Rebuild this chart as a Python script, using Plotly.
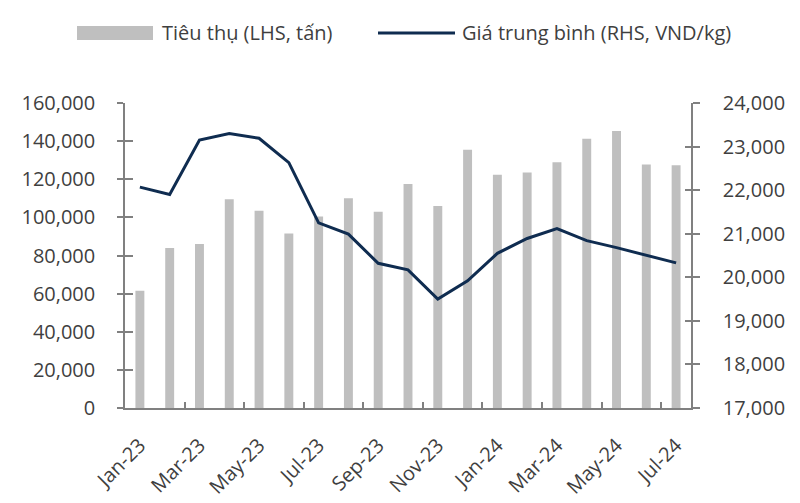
import plotly.graph_objects as go

months = ["Jan-23", "Feb-23", "Mar-23", "Apr-23", "May-23", "Jun-23", "Jul-23",
          "Aug-23", "Sep-23", "Oct-23", "Nov-23", "Dec-23", "Jan-24", "Feb-24",
          "Mar-24", "Apr-24", "May-24", "Jun-24", "Jul-24"]
consumption = [61500, 84000, 86000, 109500, 103500, 91500, 100500, 110000, 103000,
               117500, 106000, 135500, 122400, 123600, 128900, 141300, 145300,
               127800, 127300]
avg_price = [22070, 21900, 23150, 23300, 23190, 22630, 21250, 20990, 20320, 20170,
             19500, 19920, 20550, 20890, 21120, 20840, 20680, 20500, 20330]
left_ticks = [0, 20000, 40000, 60000, 80000, 100000, 120000, 140000, 160000]
right_ticks = [17000, 18000, 19000, 20000, 21000, 22000, 23000, 24000]
legend_bar = "Tiêu thụ (LHS, tấn)"
legend_line = "Giá trung bình (RHS, VND/kg)"

OFF = 8  # default page body margin
W, H = 800 - OFF, 503 - OFF
L, R, T, B = 125 - OFF, 691 - OFF, 103 - OFF, 408 - OFF
FONT = "Open Sans"
TXT = "#3f3f3f"
AX = "#808080"
BAR = "#bfbfbf"
LINE = "#0f2c50"

idx = list(range(len(months)))
label_idx = idx[::2]
label_txt = months[::2]
bound_idx = [i + 1.5 for i in idx[::2][:-1]]

def px(x):
    return (x - OFF - L) / (R - L)

def py(y):
    return (B - (y - OFF)) / (B - T)

fig = go.Figure()
fig.add_trace(go.Bar(x=idx, y=consumption, marker=dict(color=BAR, line=dict(width=0)),
                     name=legend_bar, showlegend=False, yaxis="y"))
fig.add_trace(go.Scatter(x=idx, y=avg_price, mode="lines", line=dict(color=LINE, width=3),
                         name=legend_line, showlegend=False, yaxis="y2"))

fig.update_layout(
    width=W, height=H,
    margin=dict(l=L, r=W - R, t=T, b=H - B, autoexpand=False),
    paper_bgcolor="white", plot_bgcolor="white",
    font=dict(family=FONT, size=20, color=TXT),
    bargap=0.7,
    xaxis=dict(
        range=[-0.5, len(months) - 0.5], tickmode="array", tickvals=label_idx,
        ticktext=label_txt, ticks="", tickangle=-45, showgrid=False, zeroline=False,
        showline=True, linecolor=AX, linewidth=1.5, automargin=False,
        minor=dict(tickmode="array", tickvals=bound_idx, ticks="inside", ticklen=6,
                   tickcolor=AX, tickwidth=1.5, showgrid=False),
        tickfont=dict(size=20, color=TXT), ticklabelstandoff=16,
    ),
    yaxis=dict(
        range=[0, 160000], tickmode="array", tickvals=left_ticks,
        ticktext=[f"{v:,}" for v in left_ticks], ticks="outside", ticklen=6,
        tickcolor=AX, tickwidth=1.5, showgrid=False, zeroline=False, automargin=False,
        showline=True, linecolor=AX, linewidth=1.5, ticklabelstandoff=18,
        tickfont=dict(size=20, color=TXT),
    ),
    yaxis2=dict(
        range=[17000, 24000], tickmode="array", tickvals=right_ticks,
        ticktext=[f"{v:,}" for v in right_ticks], overlaying="y", side="right",
        ticks="outside", ticklen=7, tickcolor=AX, tickwidth=1.5, showgrid=False,
        zeroline=False, showline=True, linecolor=AX, linewidth=1.5, automargin=False,
        ticklabelstandoff=19, tickfont=dict(size=20, color=TXT),
    ),
    yaxis3=dict(
        range=[0, 160000], tickmode="array", tickvals=left_ticks, overlaying="y",
        side="left", ticks="inside", ticklen=8, tickcolor=AX, tickwidth=1.5,
        showticklabels=False, showgrid=False, zeroline=False, showline=False,
    ),
    yaxis4=dict(
        range=[17000, 24000], tickmode="array", tickvals=right_ticks, overlaying="y",
        side="right", ticks="inside", ticklen=6, tickcolor=AX, tickwidth=1.5,
        showticklabels=False, showgrid=False, zeroline=False, showline=False,
    ),
)

# invisible traces so the overlay tick axes are rendered
fig.add_trace(go.Scatter(x=[idx[0]], y=[left_ticks[0]], yaxis="y3", mode="markers",
                         marker=dict(opacity=0), showlegend=False, hoverinfo="skip"))
fig.add_trace(go.Scatter(x=[idx[0]], y=[right_ticks[0]], yaxis="y4", mode="markers",
                         marker=dict(opacity=0), showlegend=False, hoverinfo="skip"))

# legend drawn manually (wide swatches)
fig.add_shape(type="rect", xref="paper", yref="paper", x0=px(77), x1=px(153),
              y0=py(40), y1=py(26), fillcolor=BAR, line=dict(width=0))
fig.add_shape(type="line", xref="paper", yref="paper", x0=px(378), x1=px(455),
              y0=py(33), y1=py(33), line=dict(color=LINE, width=3))
fig.add_annotation(xref="paper", yref="paper", x=px(160), y=py(33), text=legend_bar,
                   showarrow=False, xanchor="left", yanchor="middle",
                   font=dict(size=20, color=TXT))
fig.add_annotation(xref="paper", yref="paper", x=px(460), y=py(33), text=legend_line,
                   showarrow=False, xanchor="left", yanchor="middle",
                   font=dict(size=20, color=TXT))

fig.write_html("out.html")
